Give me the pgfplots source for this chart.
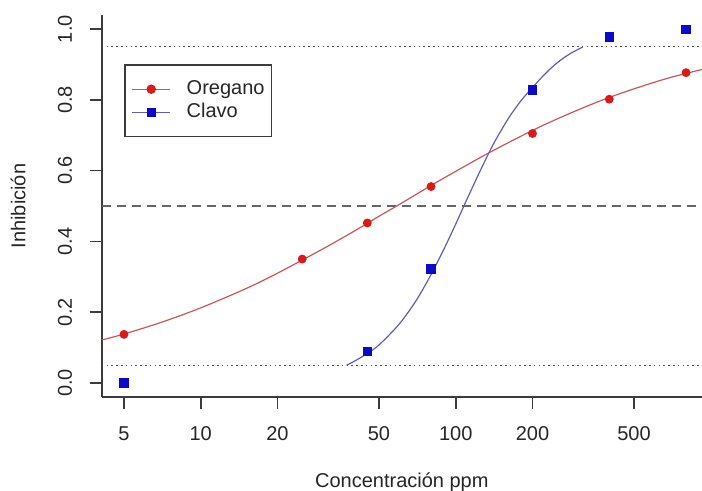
\documentclass[border=0pt]{standalone}
\usepackage{fontspec}
\setmainfont{Liberation Sans}
\usepackage{pgfplots}
\pgfplotsset{compat=1.18}
\definecolor{redpt}{RGB}{220,25,25}
\definecolor{redln}{RGB}{205,85,85}
\definecolor{bluept}{RGB}{10,10,200}
\definecolor{blueln}{RGB}{95,95,175}
\definecolor{axcol}{RGB}{60,60,60}
\begin{document}
\begin{tikzpicture}
\begin{axis}[
  scale only axis, width=300.15pt, height=191pt,
  xmode=log, xmin=4.09, xmax=924, ymin=-0.04, ymax=1.04,
  axis x line*=bottom, axis y line*=left,
  axis line style={axcol, line width=0.8pt},
  every tick/.style={axcol, line width=0.8pt},
  tick align=outside, major tick length=6pt,
  minor tick num=0, log basis x=10,
  xtick={5,10,20,50,100,200,500},
  xticklabels={5,10,20,50,100,200,500},
  ytick={0,0.2,0.4,0.6,0.8,1.0},
  yticklabels={0.0,0.2,0.4,0.6,0.8,1.0},
  xticklabel style={anchor=north, inner sep=0pt, yshift=-8.8pt, text=black!85},
  yticklabel style={xshift=-8.6pt, rotate=90, anchor=south, inner sep=0pt, text=black!85},
  clip=true,
  legend style={at={(0.0371,0.8717)}, anchor=north west, draw=axcol, line width=0.8pt,
    inner xsep=3.5pt, inner ysep=7.2pt, row sep=1.5pt, column sep=8pt,
    nodes={inner sep=0pt, text height=7.5pt, text depth=2.5pt, text=black!85}},
  legend cell align=left,
  legend image code/.code={\draw[mark repeat=2,mark phase=2] plot coordinates {(0cm,0cm) (0.33cm,0cm) (0.66cm,0cm)};},
]
\addlegendimage{redln, line width=0.7pt, mark=*, mark size=2pt, mark options={fill=redpt, draw=redpt}}
\addlegendimage{blueln, line width=0.7pt, mark=square*, mark size=2pt, mark options={fill=bluept, draw=bluept}}
% reference lines
\addplot[black!70, line width=0.6pt, dash pattern=on 0.8pt off 1.6pt, forget plot] coordinates {(4.09,0.05) (924,0.05)};
\addplot[black!70, line width=0.6pt, dash pattern=on 0.8pt off 1.6pt, forget plot] coordinates {(4.09,0.95) (924,0.95)};
\addplot[black!60, line width=1pt, dash pattern=on 4.5pt off 3pt, forget plot] coordinates {(4.09,0.5) (924,0.5)};
% fitted curves
\addplot[redln, line width=0.6pt, smooth, forget plot] coordinates {
(4.09,0.121) (5,0.138) (7,0.171) (10,0.212) (15,0.266) (20,0.310) (30,0.378) (40,0.429)
(50,0.471) (60,0.504) (80,0.558) (100,0.598) (130,0.644) (170,0.688) (220,0.728)
(300,0.771) (400,0.807) (550,0.841) (700,0.864) (924,0.886)};
\addplot[blueln, line width=0.6pt, smooth, forget plot] coordinates {
(37.3,0.05) (40,0.061) (45,0.083) (50,0.107) (60,0.166) (70,0.233) (80,0.306) (90,0.379)
(100,0.449) (110,0.515) (125,0.601) (140,0.673) (160,0.745) (180,0.797) (200,0.835)
(225,0.875) (250,0.905) (280,0.930) (315.6,0.95)};
% data points
\addplot[only marks, mark=*, mark size=2pt, redpt, mark options={fill=redpt, draw=redpt}, forget plot] coordinates {
(5,0.137) (25,0.350) (45,0.452) (80,0.555) (200,0.705) (400,0.802) (800,0.877)};
\addplot[only marks, mark=square*, mark size=2.1pt, bluept, mark options={fill=bluept, draw=bluept}, forget plot] coordinates {
(5,0.0) (45,0.089) (80,0.322) (200,0.828) (400,0.978) (800,1.0)};
\legend{Oregano,Clavo}
\end{axis}
\node[rotate=90, anchor=south, inner sep=0pt, text=black!85] at ([xshift=-37.9pt]current axis.west) {Inhibición};
\node[anchor=base, inner sep=0pt, text=black!85] at ([yshift=-45.3pt]current axis.south) {Concentración ppm};
\pgfresetboundingbox
\path[use as bounding box] ([xshift=-50.85pt,yshift=-47pt]current axis.south west) rectangle ([yshift=7.5pt]current axis.north east);
\end{tikzpicture}
\end{document}
